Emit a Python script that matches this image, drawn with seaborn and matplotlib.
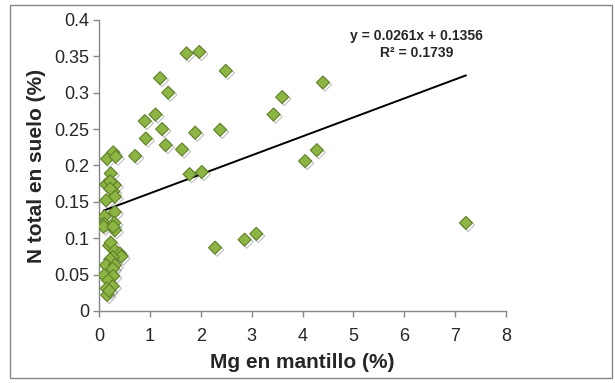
import seaborn as sns
import matplotlib.pyplot as plt
import matplotlib.patheffects as pe
from matplotlib.patches import Rectangle
import pandas as pd

# Mg en mantillo (%) vs N total en suelo (%)
mg = [1.72, 1.97, 2.49, 1.20, 1.36, 4.40, 3.60, 3.43, 1.11, 0.90,
      1.24, 2.38, 1.89, 0.92, 1.31, 1.63, 0.71, 4.28, 4.05, 1.78,
      2.02, 2.28, 2.86, 3.09, 7.21,
      0.16, 0.28, 0.33, 0.23, 0.14, 0.31, 0.22, 0.28, 0.31, 0.14,
      0.22, 0.31, 0.11, 0.10, 0.09, 0.30, 0.31, 0.28, 0.20, 0.23,
      0.31, 0.41, 0.44, 0.27, 0.22, 0.14, 0.31, 0.10, 0.27, 0.28,
      0.18, 0.27, 0.15, 0.16, 0.20]
n_total = [0.354, 0.356, 0.330, 0.320, 0.300, 0.314, 0.294, 0.270, 0.270, 0.261,
           0.250, 0.249, 0.245, 0.237, 0.228, 0.222, 0.213, 0.221, 0.206, 0.188,
           0.191, 0.087, 0.098, 0.106, 0.121,
           0.209, 0.218, 0.212, 0.189, 0.174, 0.173, 0.178, 0.164, 0.157, 0.152,
           0.168, 0.136, 0.130, 0.120, 0.116, 0.121, 0.111, 0.116, 0.090, 0.094,
           0.083, 0.079, 0.075, 0.074, 0.071, 0.063, 0.063, 0.049, 0.058, 0.048,
           0.042, 0.034, 0.031, 0.022, 0.028]

# trend line given on the chart
slope = 0.0261
intercept = 0.1356
r2 = 0.1739

df = pd.DataFrame({"mg": mg, "n": n_total})

sns.set_style("white")
plt.rcParams["font.family"] = ["Liberation Sans", "DejaVu Sans"]

fig = plt.figure(figsize=(6.15, 3.83), dpi=100)
ax = fig.add_axes([0.161, 0.188, 0.662, 0.76])

# trend line
x_line = [min(mg), max(mg)]
y_line = [slope * x + intercept for x in x_line]
ax.plot(x_line, y_line, color="black", lw=1.4, zorder=1)

sns.scatterplot(data=df, x="mg", y="n", marker="D", s=44, color="#8db543",
                edgecolor="#5f8129", linewidth=0.8, ax=ax, zorder=3,
                path_effects=[pe.SimpleLineShadow(offset=(1.5, -1.5), alpha=0.25),
                              pe.Normal()])

ax.set_xlim(0, 8)
ax.set_ylim(0, 0.4)
ax.set_xticks(range(0, 9))
ax.set_yticks([0, 0.05, 0.1, 0.15, 0.2, 0.25, 0.3, 0.35, 0.4])
ax.set_yticklabels(["0", "0.05", "0.1", "0.15", "0.2", "0.25", "0.3", "0.35", "0.4"])

for s in ["top", "right"]:
    ax.spines[s].set_visible(False)
for s in ["left", "bottom"]:
    ax.spines[s].set_color("#868686")
    ax.spines[s].set_linewidth(1.0)
ax.tick_params(axis="both", direction="out", length=4, width=1, color="#868686",
               labelsize=13, left=True, bottom=True)
ax.tick_params(axis="x", pad=8)
ax.tick_params(axis="y", pad=3)

ax.set_xlabel("Mg en mantillo (%)", fontsize=15, fontweight="bold", labelpad=6)
ax.set_ylabel("N total en suelo (%)", fontsize=15, fontweight="bold", labelpad=6)

ax.text(0.78, 0.915, f"y = {slope}x + {intercept}\nR\u00b2 = {r2}",
        transform=ax.transAxes, ha="center", va="center", fontsize=10,
        fontweight="bold", linespacing=1.25)

# outer chart frame
fig.patches.append(Rectangle((0.017, 0.013), 0.978, 0.975, transform=fig.transFigure,
                             fill=False, edgecolor="#868686", lw=1.0))

fig.savefig("out.png", dpi=100)
